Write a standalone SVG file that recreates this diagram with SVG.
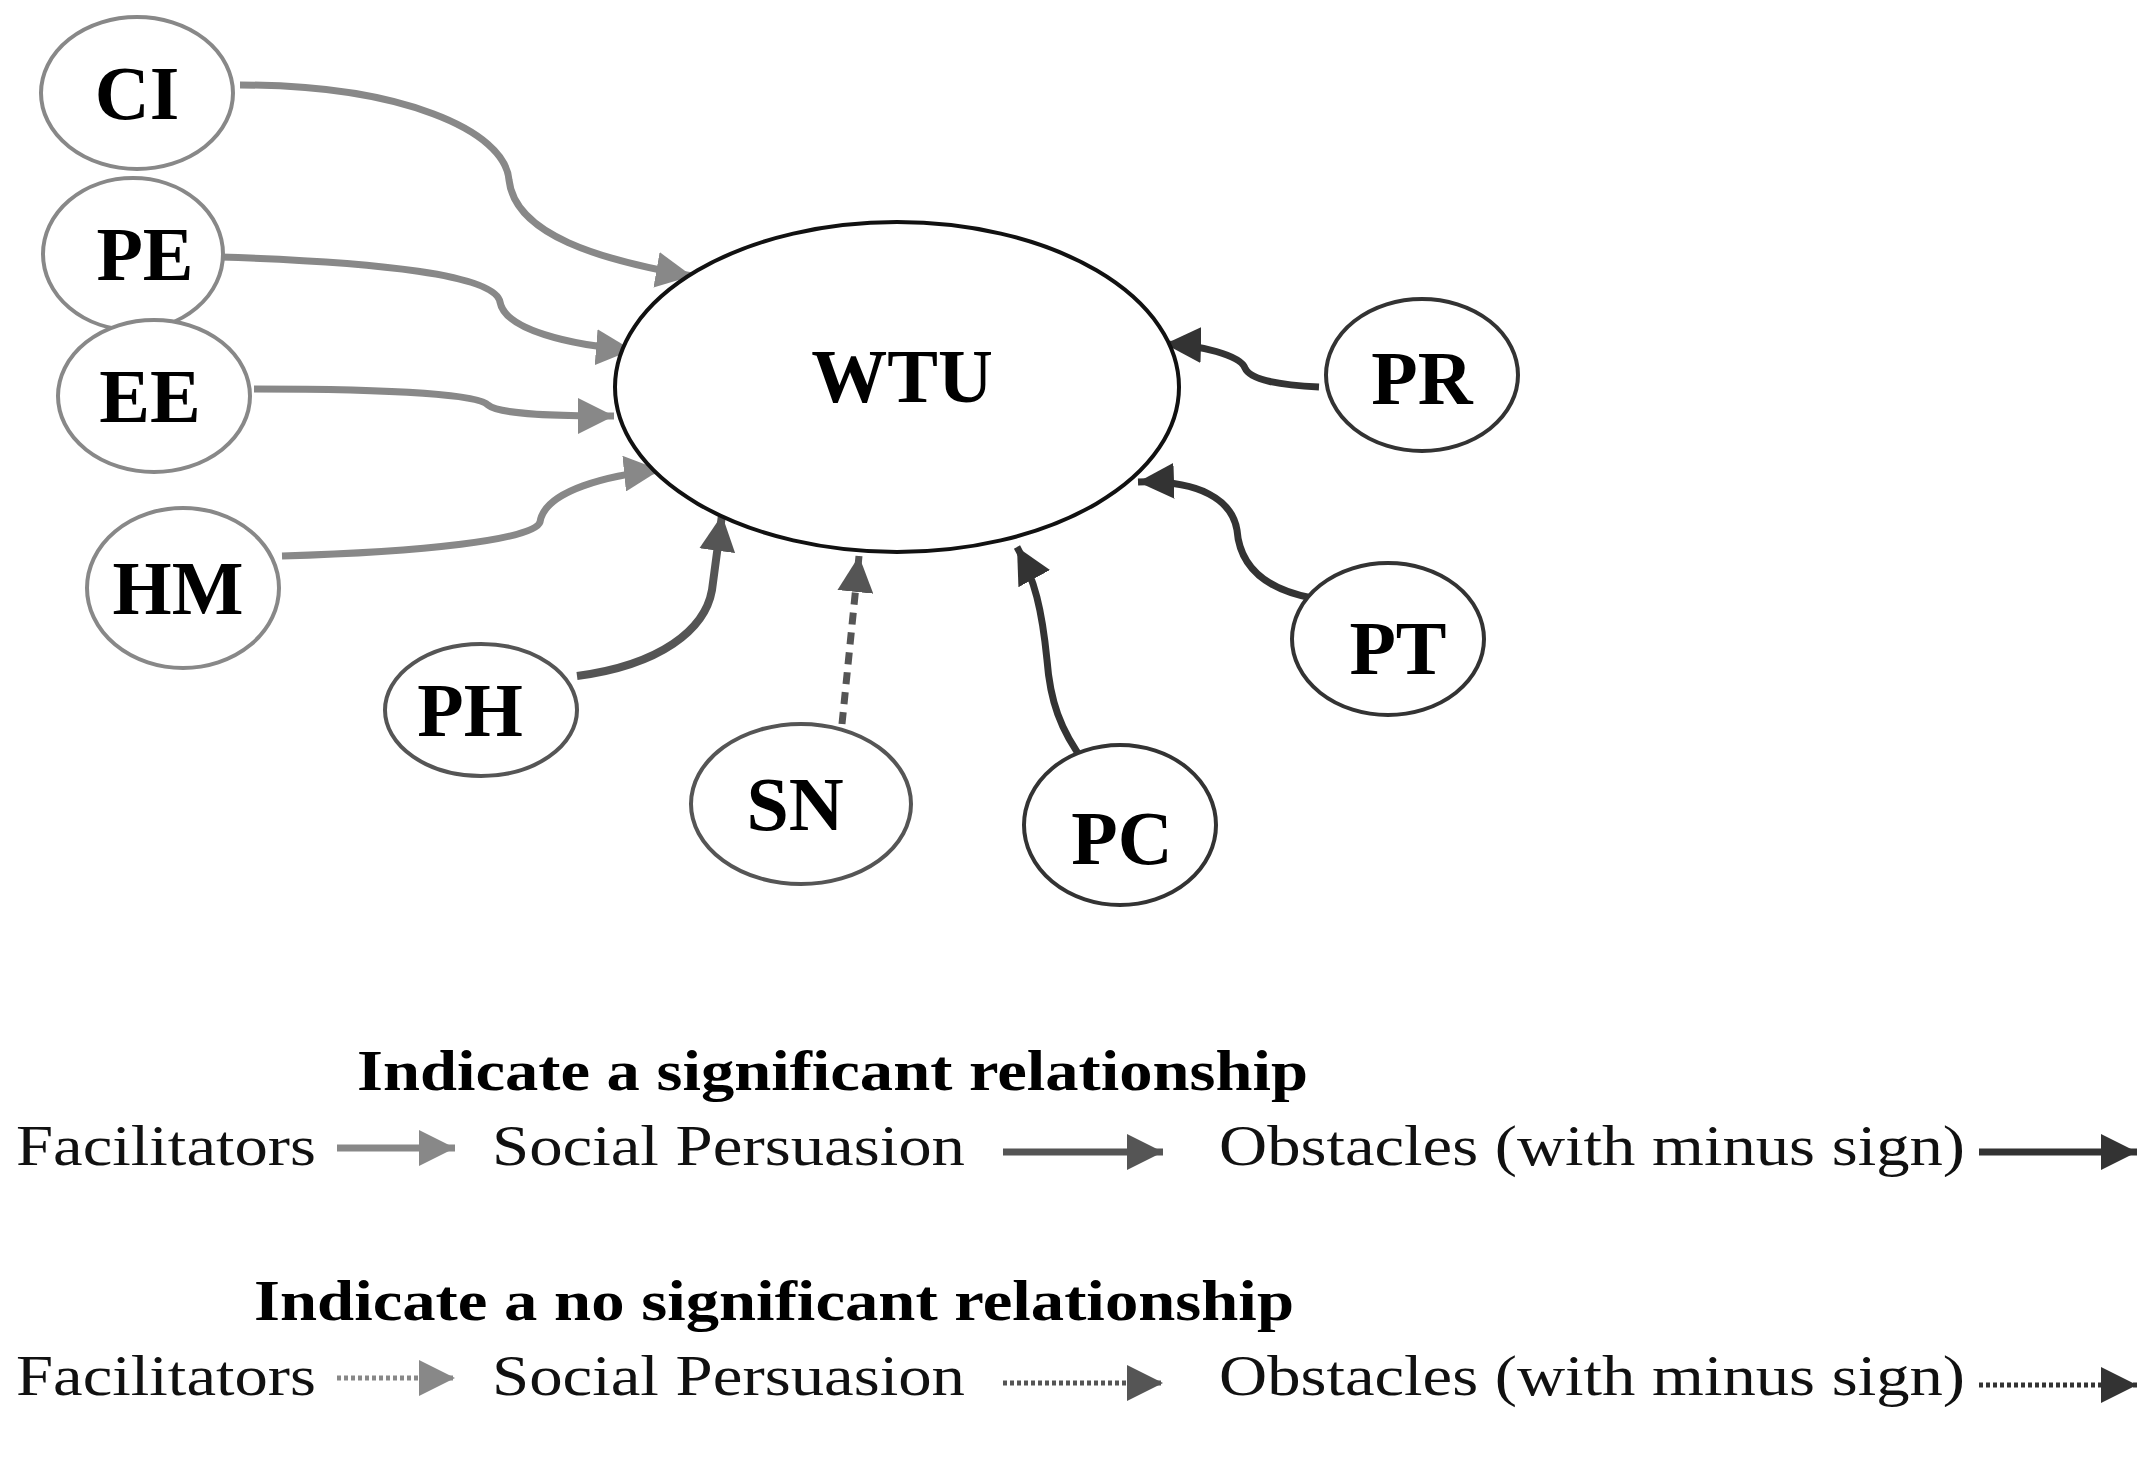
<svg xmlns="http://www.w3.org/2000/svg" width="2155" height="1468" viewBox="0 0 2155 1468">
<style>
.n{fill:#fff;stroke-width:4}
.lab{font-family:"Liberation Serif",serif;font-weight:bold;font-size:76px;text-anchor:middle;fill:#000}
.c{fill:none;stroke-width:7}
.f{stroke:#888}.s{stroke:#555}.o{stroke:#333}
.leg{font-family:"Liberation Serif",serif;font-size:58px;fill:#111}
.hd{font-family:"Liberation Serif",serif;font-weight:bold;font-size:56px;fill:#000}
</style>
<defs>
<marker id="af" viewBox="0 0 10 10" refX="10" refY="5" markerWidth="36" markerHeight="36" markerUnits="userSpaceOnUse" orient="auto"><path d="M0,0L10,5L0,10z" fill="#888"/></marker>
<marker id="as" viewBox="0 0 10 10" refX="10" refY="5" markerWidth="36" markerHeight="36" markerUnits="userSpaceOnUse" orient="auto"><path d="M0,0L10,5L0,10z" fill="#555"/></marker>
<marker id="ao" viewBox="0 0 10 10" refX="10" refY="5" markerWidth="36" markerHeight="36" markerUnits="userSpaceOnUse" orient="auto"><path d="M0,0L10,5L0,10z" fill="#333"/></marker>
</defs>
<g id="connectors">
<path class="c f" d="M240,85 C400,85 505,130 509,180 C515,235 600,260 692,276" marker-end="url(#af)"/>
<path class="c f" d="M220,257 C380,262 495,275 500,302 C505,330 570,345 632,350" marker-end="url(#af)"/>
<path class="c f" d="M254,389 C400,389 480,395 488,405 C500,415 560,416 614,416" marker-end="url(#af)"/>
<path class="c f" d="M282,556 C420,552 535,540 540,522 C545,490 610,475 660,470" marker-end="url(#af)"/>
<path class="c s" d="M577,676 C660,665 705,630 712,590 L722,515" marker-end="url(#as)" style="stroke-width:8"/>
<path class="c s" d="M842,724 L859,556" marker-end="url(#as)" stroke-dasharray="12,8"/>
<path class="c o" d="M1085,763 C1060,730 1050,700 1047,660 C1042,610 1035,580 1017,547" marker-end="url(#ao)"/>
<path class="c o" d="M1312,598 C1270,590 1240,570 1237,530 C1232,500 1200,480 1138,482" marker-end="url(#ao)"/>
<path class="c o" d="M1319,387 C1280,385 1250,380 1245,368 C1240,355 1200,345 1165,344" marker-end="url(#ao)"/>
</g>
<g id="WTU"><ellipse class="n" cx="897" cy="387" rx="282" ry="165" stroke="#111"/><text class="lab" x="902" y="402">WTU</text></g>
<g id="CI"><ellipse class="n" cx="137" cy="93" rx="96" ry="76" stroke="#888"/><text class="lab" x="137" y="119">CI</text></g>
<g id="PE"><ellipse class="n" cx="133" cy="254" rx="90" ry="76" stroke="#888"/><text class="lab" x="145" y="280">PE</text></g>
<g id="EE"><ellipse class="n" cx="154" cy="396" rx="96" ry="76" stroke="#888"/><text class="lab" x="150" y="422">EE</text></g>
<g id="HM"><ellipse class="n" cx="183" cy="588" rx="96" ry="80" stroke="#888"/><text class="lab" x="178" y="614">HM</text></g>
<g id="PH"><ellipse class="n" cx="481" cy="710" rx="96" ry="66" stroke="#555"/><text class="lab" x="470" y="736">PH</text></g>
<g id="SN"><ellipse class="n" cx="801" cy="804" rx="110" ry="80" stroke="#555"/><text class="lab" x="795" y="830">SN</text></g>
<g id="PC"><ellipse class="n" cx="1120" cy="825" rx="96" ry="80" stroke="#333"/><text class="lab" x="1122" y="864">PC</text></g>
<g id="PT"><ellipse class="n" cx="1388" cy="639" rx="96" ry="76" stroke="#333"/><text class="lab" x="1398" y="674">PT</text></g>
<g id="PR"><ellipse class="n" cx="1422" cy="375" rx="96" ry="76" stroke="#333"/><text class="lab" x="1422" y="404">PR</text></g>
<g id="legend">
<text class="hd" x="357" y="1090" textLength="951" lengthAdjust="spacingAndGlyphs">Indicate a significant relationship</text>
<text class="leg" x="16" y="1165" textLength="300" lengthAdjust="spacingAndGlyphs">Facilitators</text>
<text class="leg" x="492" y="1165" textLength="473" lengthAdjust="spacingAndGlyphs">Social Persuasion</text>
<text class="leg" x="1219" y="1165" textLength="746" lengthAdjust="spacingAndGlyphs">Obstacles (with minus sign)</text>
<line class="c f" x1="337" y1="1148" x2="455" y2="1148" marker-end="url(#af)"/>
<line class="c s" x1="1003" y1="1152" x2="1163" y2="1152" marker-end="url(#as)"/>
<line class="c o" x1="1979" y1="1152" x2="2137" y2="1152" marker-end="url(#ao)"/>
<text class="hd" x="254" y="1320" textLength="1040" lengthAdjust="spacingAndGlyphs">Indicate a no significant relationship</text>
<text class="leg" x="16" y="1395" textLength="300" lengthAdjust="spacingAndGlyphs">Facilitators</text>
<text class="leg" x="492" y="1395" textLength="473" lengthAdjust="spacingAndGlyphs">Social Persuasion</text>
<text class="leg" x="1219" y="1395" textLength="746" lengthAdjust="spacingAndGlyphs">Obstacles (with minus sign)</text>
<line class="c f" x1="337" y1="1378" x2="455" y2="1378" marker-end="url(#af)" stroke-dasharray="4,3" style="stroke-width:5"/>
<line class="c s" x1="1003" y1="1383" x2="1163" y2="1383" marker-end="url(#as)" stroke-dasharray="4,3" style="stroke-width:5"/>
<line class="c o" x1="1979" y1="1385" x2="2137" y2="1385" marker-end="url(#ao)" stroke-dasharray="4,3" style="stroke-width:5"/>
</g>
</svg>
